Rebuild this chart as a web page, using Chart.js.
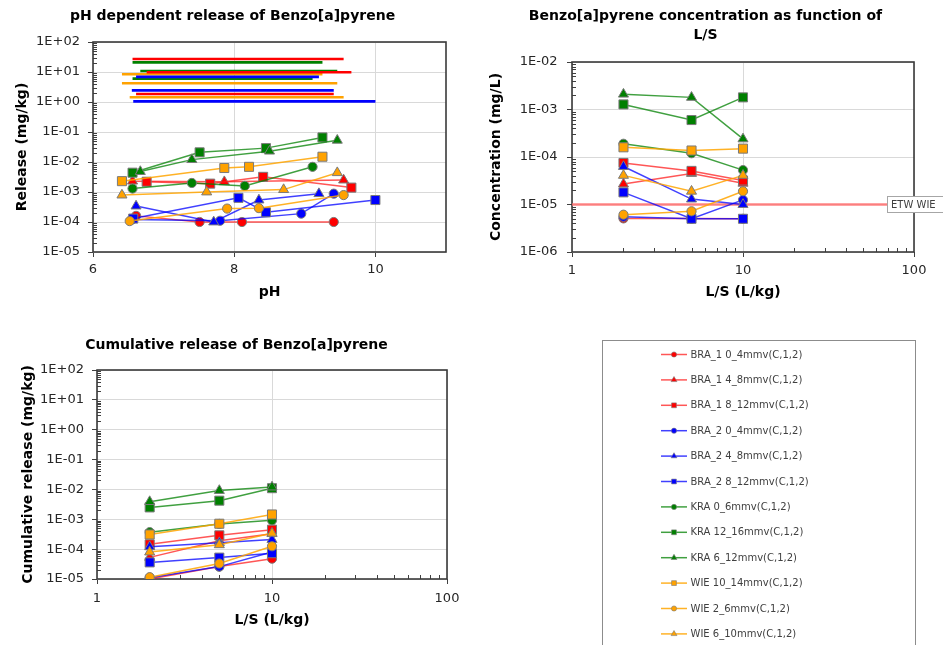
<!DOCTYPE html>
<html>
<head>
<meta charset="utf-8">
<script src="https://cdn.jsdelivr.net/npm/chart.js@4.4.1/dist/chart.umd.min.js"></script>
<style>
  html, body { margin: 0; padding: 0; background: #fff; }
  body { width: 943px; height: 645px; position: relative; overflow: hidden; }
  canvas { position: absolute; }
  #legendBox { position: absolute; left: 602px; top: 340px; width: 314px; height: 320px; border: 1px solid #8c8c8c; box-sizing: border-box; }
</style>
</head>
<body>
<canvas id="phChart" width="465" height="305" style="left:0;top:0"></canvas>
<canvas id="concChart" width="473" height="305" style="left:470px;top:0"></canvas>
<canvas id="cumChart" width="473" height="325" style="left:0;top:320px"></canvas>
<div id="legendBox"><canvas id="legendChart" width="312" height="318" style="left:0;top:0"></canvas></div>
<script>
// ==== DATA ====
const seriesNames = [
  "BRA_1 0_4mmv(C,1,2)", "BRA_1 4_8mmv(C,1,2)", "BRA_1 8_12mmv(C,1,2)",
  "BRA_2 0_4mmv(C,1,2)", "BRA_2 4_8mmv(C,1,2)", "BRA_2 8_12mmv(C,1,2)",
  "KRA 0_6mmv(C,1,2)", "KRA 12_16mmv(C,1,2)", "KRA 6_12mmv(C,1,2)",
  "WIE 10_14mmv(C,1,2)", "WIE 2_6mmv(C,1,2)", "WIE 6_10mmv(C,1,2)"
];

// pH dependent release (mg/kg), one list per series
const phValues = [
  [6.61, 7.51, 8.11, 9.41],
  [6.56, 7.86, 9.55],
  [6.76, 7.66, 8.41, 9.66],
  [6.55, 7.80, 8.95, 9.41],
  [6.61, 7.71, 8.35, 9.20],
  [6.57, 8.06, 8.45, 10.0],
  [6.56, 7.40, 8.15, 9.11],
  [6.56, 7.51, 8.45, 9.25],
  [6.67, 7.40, 8.50, 9.46],
  [6.41, 7.86, 8.21, 9.25],
  [6.52, 7.90, 8.35, 9.55],
  [6.41, 7.61, 8.70, 9.46]
];
const phRelease = [
  [1.6e-4, 1.0e-4, 1.0e-4, 1.0e-4],
  [2.3e-3, 2.2e-3, 2.5e-3],
  [2.2e-3, 1.9e-3, 3.2e-3, 1.4e-3],
  [1.2e-4, 1.1e-4, 1.9e-4, 8.8e-4],
  [3.4e-4, 1.0e-4, 5.4e-4, 8.8e-4],
  [1.3e-4, 6.4e-4, 2.1e-4, 5.4e-4],
  [1.3e-3, 2.0e-3, 1.6e-3, 6.9e-3],
  [4.4e-3, 2.1e-2, 2.9e-2, 6.6e-2],
  [4.8e-3, 1.2e-2, 2.3e-2, 5.3e-2],
  [2.3e-3, 6.3e-3, 6.9e-3, 1.5e-2],
  [1.07e-4, 2.8e-4, 2.9e-4, 7.9e-4],
  [7.9e-4, 1.0e-3, 1.2e-3, 4.4e-3]
];
// availability level drawn over the pH range of each series
const availability = [1.85, 27, 9.8, 2.45, 6.9, 1.05, 6.0, 21, 10.8, 8.4, 1.44, 4.2];

// L/S dependent data
const lsValues = [2, 5, 10];
const concentration = [
  [5.1e-6, 5.1e-6, 5.0e-6],
  [2.7e-5, 4.5e-5, 2.8e-5],
  [7.5e-5, 5.1e-5, 3.2e-5],
  [5.5e-6, 5.0e-6, 1.25e-5],
  [6.3e-5, 1.3e-5, 1.0e-5],
  [1.8e-5, 5.0e-6, 5.0e-6],
  [1.9e-4, 1.2e-4, 5.3e-5],
  [1.28e-3, 6.0e-4, 1.8e-3],
  [2.1e-3, 1.8e-3, 2.4e-4],
  [1.6e-4, 1.37e-4, 1.5e-4],
  [6.1e-6, 7.2e-6, 1.9e-5],
  [4.1e-5, 1.9e-5, 4.1e-5]
];
const cumulative = [
  [1.0e-5, 2.6e-5, 4.8e-5],
  [5.3e-5, 1.9e-4, 3.3e-4],
  [1.45e-4, 2.9e-4, 4.5e-4],
  [1.1e-5, 2.6e-5, 8.0e-5],
  [1.2e-4, 1.65e-4, 2.1e-4],
  [3.6e-5, 5.2e-5, 7.3e-5],
  [3.7e-4, 7.0e-4, 9.2e-4],
  [2.5e-3, 4.2e-3, 1.1e-2],
  [3.9e-3, 9.2e-3, 1.2e-2],
  [3.1e-4, 7.1e-4, 1.45e-3],
  [1.15e-5, 3.3e-5, 1.25e-4],
  [8.0e-5, 1.4e-4, 3.4e-4]
];
const etwLimit = 1e-5;
const etwLabel = "ETW WIE";

// tick labels
const phTicks = [6, 8, 10];
const releaseTicks = [1e-5, 1e-4, 1e-3, 1e-2, 1e-1, 1e0, 1e1, 1e2];
const concTicks = [1e-6, 1e-5, 1e-4, 1e-3, 1e-2];
const lsTicks = [1, 10, 100];

// ==== STYLES ====
const FONT = '"DejaVu Sans", Verdana, sans-serif';
const RED = "#ff0000", BLUE = "#0000ff", GREEN = "#008000", ORANGE = "#ffa200";
const markerColor = [RED, RED, RED, BLUE, BLUE, BLUE, GREEN, GREEN, GREEN, ORANGE, ORANGE, ORANGE];
const lineColor = [
  "rgba(255,30,30,0.75)", "rgba(255,30,30,0.75)", "rgba(255,30,30,0.75)",
  "rgba(0,0,255,0.75)", "rgba(0,0,255,0.75)", "rgba(0,0,255,0.75)",
  "rgba(0,128,0,0.75)", "rgba(0,128,0,0.75)", "rgba(0,128,0,0.75)",
  "rgba(255,165,0,0.85)", "rgba(255,165,0,0.85)", "rgba(255,165,0,0.85)"
];
const markerStyle = ["circle", "triangle", "rect", "circle", "triangle", "rect",
  "circle", "rect", "triangle", "rect", "circle", "triangle"];
const markerSize = { circle: 4.6, triangle: 5.8, rect: 6.4 };

Chart.defaults.font.family = FONT;
Chart.defaults.color = "#262626";

function expLabel(v) {
  const e = Math.round(Math.log10(v));
  return "1E" + (e < 0 ? "-" : "+") + String(Math.abs(e)).padStart(2, "0");
}

function seriesSet(i, xs, ys) {
  return {
    label: seriesNames[i],
    data: xs.map((x, j) => ({ x: x, y: ys[j] })),
    showLine: true,
    order: -i,
    borderColor: lineColor[i],
    borderWidth: 1.5,
    backgroundColor: markerColor[i],
    pointBackgroundColor: markerColor[i],
    pointBorderColor: "#7a7a7a",
    pointBorderWidth: 1,
    pointStyle: markerStyle[i],
    pointRadius: markerSize[markerStyle[i]],
    pointHoverRadius: markerSize[markerStyle[i]]
  };
}

function titleOpts(text, top, bottom, lh) {
  return {
    display: true,
    text: text,
    color: "#000",
    font: { family: FONT, size: 14, weight: "bold", lineHeight: lh || 1.2 },
    padding: { top: top, bottom: bottom }
  };
}

function axisTitle(text, pad) {
  return {
    display: true,
    text: text,
    color: "#000",
    font: { family: FONT, size: 14, weight: "bold" },
    padding: pad
  };
}

const gridOpts = { color: "#d9d9d9", lineWidth: 1, tickLength: 5, tickColor: "#404040" };

function logAxis(min, max, ticks, width, labelPad, titleText, titlePad, fmt) {
  return {
    type: "logarithmic",
    min: min,
    max: max,
    afterBuildTicks: (s) => { s.ticks = ticks.map((v) => ({ value: v })); },
    afterFit: (s) => { if (s.isHorizontal()) s.height = width; else s.width = width; },
    ticks: { autoSkip: false, maxRotation: 0, padding: labelPad, font: { size: 13 }, callback: fmt },
    grid: gridOpts,
    border: { display: false },
    title: axisTitle(titleText, titlePad)
  };
}

// plot frame + minor tick marks on log axes
const framePlugin = {
  id: "frame",
  beforeDatasetsDraw(chart) {
    const ctx = chart.ctx, a = chart.chartArea;
    ctx.save();
    ctx.strokeStyle = "#404040";
    ctx.lineWidth = 1;
    Object.values(chart.scales).forEach((s) => {
      if (s.type !== "logarithmic") return;
      const e0 = Math.round(Math.log10(s.min)), e1 = Math.round(Math.log10(s.max));
      for (let e = e0; e < e1; e++) {
        for (let k = 2; k < 10; k++) {
          const p = Math.round(s.getPixelForValue(k * Math.pow(10, e))) + 0.5;
          ctx.beginPath();
          if (s.isHorizontal()) { ctx.moveTo(p, a.bottom); ctx.lineTo(p, a.bottom - 4); }
          else { ctx.moveTo(a.left, p); ctx.lineTo(a.left + 4, p); }
          ctx.stroke();
        }
      }
    });
    ctx.lineWidth = 1.6;
    ctx.strokeStyle = "#3a3a3a";
    ctx.strokeRect(a.left, a.top, a.right - a.left, a.bottom - a.top);
    ctx.restore();
  }
};

const baseOptions = {
  responsive: false,
  animation: false,
  events: [],
  plugins: { legend: { display: false }, tooltip: { enabled: false } }
};

// ==== pH CHART ====
const phSets = [];
seriesNames.forEach((n, i) => {
  phSets.push(seriesSet(i, phValues[i], phRelease[i]));
});
seriesNames.forEach((n, i) => {
  const lo = Math.min(...phValues[i]), hi = Math.max(...phValues[i]);
  phSets.push({
    label: n + " total",
    data: [{ x: lo, y: availability[i] }, { x: hi, y: availability[i] }],
    showLine: true,
    order: 5,
    borderColor: markerColor[i],
    borderWidth: 2.6,
    pointRadius: 0
  });
});

new Chart(document.getElementById("phChart"), {
  type: "scatter",
  data: { datasets: phSets },
  options: {
    ...baseOptions,
    layout: { padding: { left: 19, right: 19, top: 0, bottom: 0 } },
    plugins: { ...baseOptions.plugins, title: titleOpts("pH dependent release of Benzo[a]pyrene", 8.3, 16.9) },
    scales: {
      x: {
        type: "linear",
        min: 6,
        max: 11,
        afterBuildTicks: (s) => { s.ticks = phTicks.map((v) => ({ value: v })); },
        afterFit: (s) => { s.height = 53; },
        ticks: { autoSkip: false, maxRotation: 0, padding: 5, font: { size: 13 } },
        grid: gridOpts,
        border: { display: false },
        title: axisTitle("pH", { top: 0, bottom: 4.6 })
      },
      y: logAxis(1e-5, 1e2, releaseTicks, 74, 8, "Release (mg/kg)", { top: -5.4, bottom: 0 }, expLabel)
    }
  },
  plugins: [framePlugin]
});

// ==== CONCENTRATION CHART ====
const concSets = concentration.map((c, i) => seriesSet(i, lsValues, c));
concSets.push({
  label: etwLabel,
  data: [{ x: 1, y: etwLimit }, { x: 100, y: etwLimit }],
  showLine: true,
  order: 20,
  borderColor: "rgba(255,110,110,0.85)",
  borderWidth: 2.6,
  pointRadius: 0
});

const etwPlugin = {
  id: "etwLabel",
  afterDraw(chart) {
    const ctx = chart.ctx, a = chart.chartArea;
    const y = chart.scales.y.getPixelForValue(etwLimit);
    const x0 = a.right - 27;
    ctx.save();
    ctx.fillStyle = "#fff";
    ctx.strokeStyle = "#a6a6a6";
    ctx.lineWidth = 1;
    ctx.fillRect(x0, y - 8.5, 80, 17);
    ctx.strokeRect(x0 + 0.5, y - 8, 80, 16);
    ctx.fillStyle = "#404040";
    ctx.font = "10px " + FONT;
    ctx.textBaseline = "middle";
    ctx.fillText(etwLabel, x0 + 4, y + 1);
    ctx.restore();
  }
};

new Chart(document.getElementById("concChart"), {
  type: "scatter",
  data: { datasets: concSets },
  options: {
    ...baseOptions,
    layout: { padding: { left: 27, right: 29, top: 0, bottom: 0 } },
    plugins: {
      ...baseOptions.plugins,
      title: titleOpts(["Benzo[a]pyrene concentration as function of", "L/S"], 7.6, 18, 1.3)
    },
    scales: {
      x: logAxis(1, 100, lsTicks, 53, 6, "L/S (L/kg)", { top: 0, bottom: 4.6 }, (v) => String(v)),
      y: logAxis(1e-6, 1e-2, concTicks, 75, 9.5, "Concentration (mg/L)", { top: -8.9, bottom: 0 }, expLabel)
    }
  },
  plugins: [framePlugin, etwPlugin]
});

// ==== CUMULATIVE CHART ====
new Chart(document.getElementById("cumChart"), {
  type: "scatter",
  data: { datasets: cumulative.map((c, i) => seriesSet(i, lsValues, c)) },
  options: {
    ...baseOptions,
    layout: { padding: { left: 26, right: 26, top: 0, bottom: 0 } },
    plugins: { ...baseOptions.plugins, title: titleOpts("Cumulative release of Benzo[a]pyrene", 16.6, 16.6) },
    scales: {
      x: logAxis(1, 100, lsTicks, 66, 7, "L/S (L/kg)", { top: 0, bottom: 16.6 }, (v) => String(v)),
      y: logAxis(1e-5, 1e2, releaseTicks, 71, 8, "Cumulative release (mg/kg)", { top: -6.4, bottom: 0 }, expLabel)
    }
  },
  plugins: [framePlugin]
});

// ==== LEGEND ====
const legendPlugin = {
  id: "seriesLegend",
  afterDraw(chart) {
    const ctx = chart.ctx;
    const drawPoint = Chart.helpers && Chart.helpers.drawPoint;
    chart.data.datasets.forEach((ds, i) => {
      const y = 13.5 + i * 25.4;
      ctx.save();
      ctx.strokeStyle = ds.borderColor;
      ctx.lineWidth = 1.5;
      ctx.beginPath();
      ctx.moveTo(58, y);
      ctx.lineTo(84, y);
      ctx.stroke();
      ctx.fillStyle = ds.pointBackgroundColor;
      ctx.strokeStyle = "#7a7a7a";
      ctx.lineWidth = 0.6;
      const r = ds.pointStyle === "circle" ? 2.6 : 3.4;
      if (drawPoint) {
        drawPoint(ctx, { pointStyle: ds.pointStyle, radius: r, rotation: 0, borderWidth: 0.6 }, 71, y);
      } else {
        ctx.beginPath();
        ctx.arc(71, y, r, 0, Math.PI * 2);
        ctx.fill();
      }
      ctx.fillStyle = "#404040";
      ctx.font = "10px " + FONT;
      ctx.textBaseline = "middle";
      ctx.fillText(ds.label, 87.5, y + 0.5);
      ctx.restore();
    });
  }
};

new Chart(document.getElementById("legendChart"), {
  type: "line",
  data: {
    datasets: seriesNames.map((n, i) => ({
      label: n,
      data: [],
      borderColor: lineColor[i],
      pointBackgroundColor: markerColor[i],
      pointStyle: markerStyle[i]
    }))
  },
  options: {
    ...baseOptions,
    scales: { x: { display: false }, y: { display: false } }
  },
  plugins: [legendPlugin]
});
</script>
</body>
</html>
